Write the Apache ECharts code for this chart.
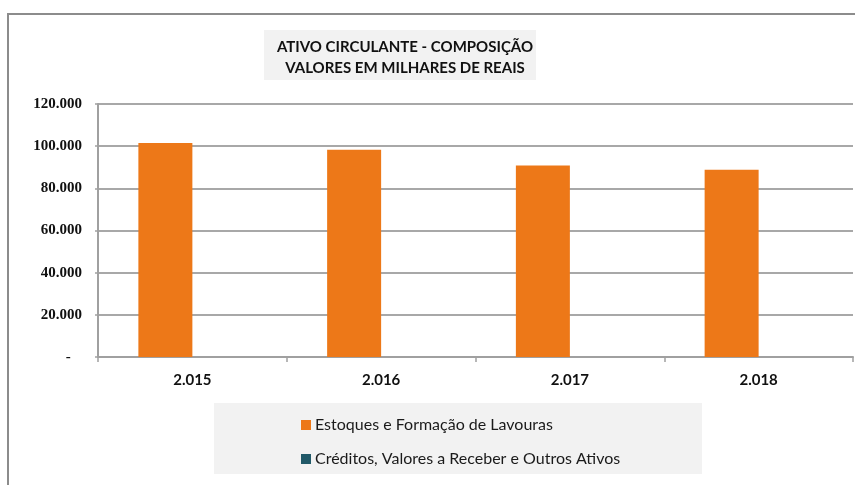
<!DOCTYPE html>
<html>
<head>
<meta charset="utf-8">
<script src="https://cdn.jsdelivr.net/npm/echarts@6/dist/echarts.min.js"></script>
<style>
  html, body { margin: 0; padding: 0; background: #fff; }
  #chart { width: 855px; height: 485px; }
</style>
</head>
<body>
<div id="chart"></div>
<script>
// dados do gráfico (valores em milhares de reais)
var anos = ["2.015", "2.016", "2.017", "2.018"];
var estoques = [101500, 98300, 90800, 88800];
var creditos = [0, 0, 0, 0];
var nomesSeries = ["Estoques e Formação de Lavouras", "Créditos, Valores a Receber e Outros Ativos"];
var titulo = ["ATIVO CIRCULANTE - COMPOSIÇÃO", "VALORES EM MILHARES DE REAIS"];

var chart = echarts.init(document.getElementById("chart"));

// formata 20000 -> "20.000", zero -> "-" (recuado como no Excel)
function fmt(v) {
  if (v === 0) return "-   ";
  return String(v).replace(/\B(?=(\d{3})+(?!\d))/g, ".");
}

var option = {
  animation: false,
  backgroundColor: "#fff",
  title: {
    text: titulo.join("\n"),
    left: 400,
    textAlign: "center",
    top: 32,
    textStyle: {
      fontFamily: "Lato",
      fontWeight: "bold",
      fontSize: 15,
      lineHeight: 21,
      color: "#111",
    },
  },
  graphic: [
    // moldura externa
    {
      type: "rect",
      shape: { x: 8, y: 14, width: 900, height: 500 },
      style: { fill: null, stroke: "#8c8c8c", lineWidth: 2 },
      z: -1,
    },
    // fundo do título
    {
      type: "rect",
      shape: { x: 264, y: 30, width: 272, height: 50 },
      style: { fill: "#f2f2f2" },
      z: -1,
    },
    // fundo da legenda
    {
      type: "rect",
      shape: { x: 214, y: 403, width: 488, height: 71 },
      style: { fill: "#f2f2f2" },
      z: -1,
    },
  ],
  legend: {
    orient: "vertical",
    left: 296,
    top: 412,
    itemWidth: 10,
    itemHeight: 10,
    itemGap: 18,
    icon: "rect",
    textStyle: { fontFamily: "Lato", fontSize: 16, color: "#1a1a1a", padding: [0, 0, 0, -1] },
    data: nomesSeries,
  },
  grid: { left: 98, right: 2, top: 104, bottom: 128 },
  xAxis: {
    type: "category",
    data: anos,
    axisLine: { lineStyle: { color: "#a0a0a0", width: 2 } },
    axisTick: { show: true, length: 5, lineStyle: { color: "#a0a0a0", width: 1.5 } },
    axisLabel: {
      margin: 16,
      fontFamily: "Lato",
      fontWeight: "bold",
      fontSize: 15,
      color: "#111",
    },
  },
  yAxis: {
    type: "value",
    min: 0,
    max: 120000,
    interval: 20000,
    axisLine: { show: true, lineStyle: { color: "#a0a0a0", width: 2 } },
    axisTick: { show: true, length: 3, lineStyle: { color: "#a0a0a0", width: 1.5 } },
    splitLine: { lineStyle: { color: "#a8a8a8", width: 2 } },
    axisLabel: {
      margin: 16,
      formatter: fmt,
      fontFamily: "Liberation Serif",
      fontWeight: "bold",
      fontSize: 15,
      color: "#111",
    },
  },
  series: [
    {
      name: nomesSeries[0],
      type: "bar",
      data: estoques,
      barWidth: 54,
      barGap: "0%",
      itemStyle: { color: "#ed7818" },
    },
    {
      name: nomesSeries[1],
      type: "bar",
      data: creditos,
      barWidth: 54,
      itemStyle: { color: "#215968" },
    },
  ],
};

chart.setOption(option);

window.addEventListener("resize", function () {
  chart.resize();
});
</script>
</body>
</html>
